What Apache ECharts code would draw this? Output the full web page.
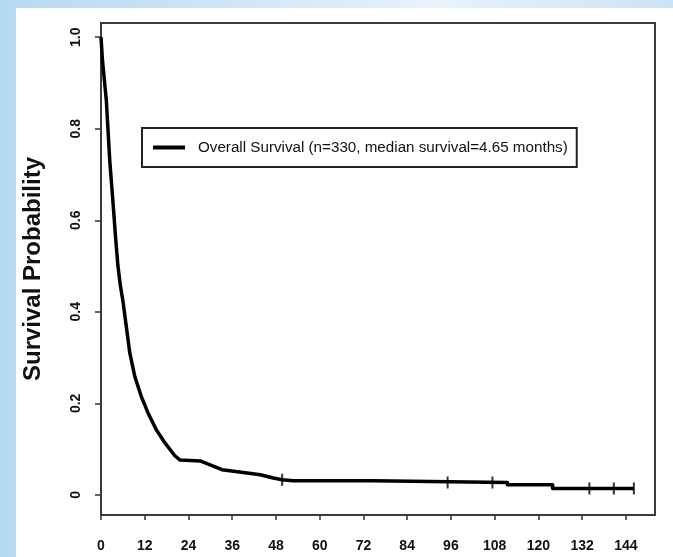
<!DOCTYPE html>
<html>
<head>
<meta charset="utf-8">
<script src="https://cdn.jsdelivr.net/npm/echarts@6/dist/echarts.min.js"></script>
<style>
  html, body { margin: 0; padding: 0; width: 673px; height: 557px; overflow: hidden; }
  body { position: relative; background: linear-gradient(90deg, #b6d9f3 0%, #cfe6f8 35%, #e8f3fc 65%, #cbe3f6 100%); }
  #panel { position: absolute; left: 16px; top: 8px; right: 0; bottom: 0; background: #ffffff; }
  #chart { position: absolute; left: 0; top: 0; width: 673px; height: 557px; }
</style>
</head>
<body>
<div id="panel"></div>
<div id="chart"></div>
<script>
// Kaplan-Meier estimate: months since diagnosis and survival probability
const months = [0, 0.4, 1.46, 2.4, 3.3, 4.0, 4.65, 5.3, 6.0, 6.96, 7.9, 9.3, 11.1, 12.9, 15.2, 17.5, 20.2, 21.7,
                27.2, 29.1, 31.3, 33.2, 40.1, 43.7, 47.3, 49.7, 52.7, 74.5, 74.5, 111.5, 111.5, 123.9, 123.9, 146.2];
const survival = [1.0, 0.95, 0.862, 0.731, 0.638, 0.562, 0.50, 0.458, 0.424, 0.367, 0.31, 0.258, 0.214, 0.179, 0.142, 0.114, 0.086, 0.076,
                  0.074, 0.068, 0.061, 0.055, 0.048, 0.044, 0.037, 0.033, 0.031, 0.031, 0.027, 0.027, 0.022, 0.022, 0.014, 0.014];

// Censored observations (tick marks on the curve)
const censorMonths = [49.7, 95.1, 107.4, 134.0, 140.7, 146.2];
const censorSurvival = [0.033, 0.027, 0.027, 0.014, 0.014, 0.014];

// Axis ticks
const xTicks = [0, 12, 24, 36, 48, 60, 72, 84, 96, 108, 120, 132, 144];
const yTicks = [0, 0.2, 0.4, 0.6, 0.8, 1.0];
const yTickLabels = ['0', '0.2', '0.4', '0.6', '0.8', '1.0'];

const seriesName = 'Overall Survival (n=330, median survival=4.65 months)';
const yTitle = 'Survival Probability';

const chart = echarts.init(document.getElementById('chart'), null, { renderer: 'canvas' });

const axisFont = { fontFamily: 'Liberation Sans, Arial, sans-serif', fontWeight: 'bold', fontSize: 14, color: '#111' };
const tickStyle = { color: '#333', width: 1.5 };

chart.setOption({
  backgroundColor: 'transparent',
  animation: false,
  grid: {
    left: 101, right: 18, top: 23, bottom: 42,
    show: true, borderColor: '#3a3a3a', borderWidth: 2, backgroundColor: 'transparent'
  },
  legend: {
    data: [{ name: seriesName, icon: 'rect' }],
    left: 142, top: 128,
    itemWidth: 32, itemHeight: 4,
    padding: [12, 9, 12, 11],
    borderColor: '#222', borderWidth: 2, borderRadius: 0,
    backgroundColor: '#ffffff',
    selectedMode: false,
    textStyle: {
      fontFamily: 'Liberation Sans, Arial, sans-serif', fontSize: 15.2, color: '#111',
      padding: [0, 0, 0, 8]
    }
  },
  xAxis: {
    type: 'value', min: 0, max: 152,
    axisLine: { show: false, onZero: false },
    splitLine: { show: false },
    axisTick: { show: true, length: 5, lineStyle: tickStyle, customValues: xTicks },
    axisLabel: Object.assign({ margin: 24, customValues: xTicks }, axisFont)
  },
  yAxis: {
    type: 'value', min: -0.044, max: 1.031,
    name: yTitle, nameLocation: 'middle', nameRotate: 90, nameGap: 56,
    nameTextStyle: { fontFamily: 'Liberation Sans, Arial, sans-serif', fontWeight: 'bold', fontSize: 24, color: '#111' },
    axisLine: { show: false, onZero: false },
    splitLine: { show: false },
    axisTick: { show: true, length: 6, lineStyle: tickStyle, customValues: yTicks },
    axisLabel: Object.assign({
      margin: 18, rotate: 90, customValues: yTicks,
      formatter: function (v) {
        const i = yTicks.findIndex(t => Math.abs(t - v) < 1e-9);
        return i >= 0 ? yTickLabels[i] : '';
      }
    }, axisFont)
  },
  series: [
    {
      name: seriesName,
      type: 'line',
      data: months.map((m, i) => [m, survival[i]]),
      showSymbol: false,
      symbol: 'none',
      color: '#000',
      lineStyle: { color: '#000', width: 3.5, join: 'round' },
      z: 3
    },
    {
      name: 'Censored',
      type: 'scatter',
      data: censorMonths.map((m, i) => [m, censorSurvival[i]]),
      symbol: 'rect',
      symbolSize: [2, 12],
      itemStyle: { color: '#000' },
      z: 4
    }
  ]
});
</script>
</body>
</html>
